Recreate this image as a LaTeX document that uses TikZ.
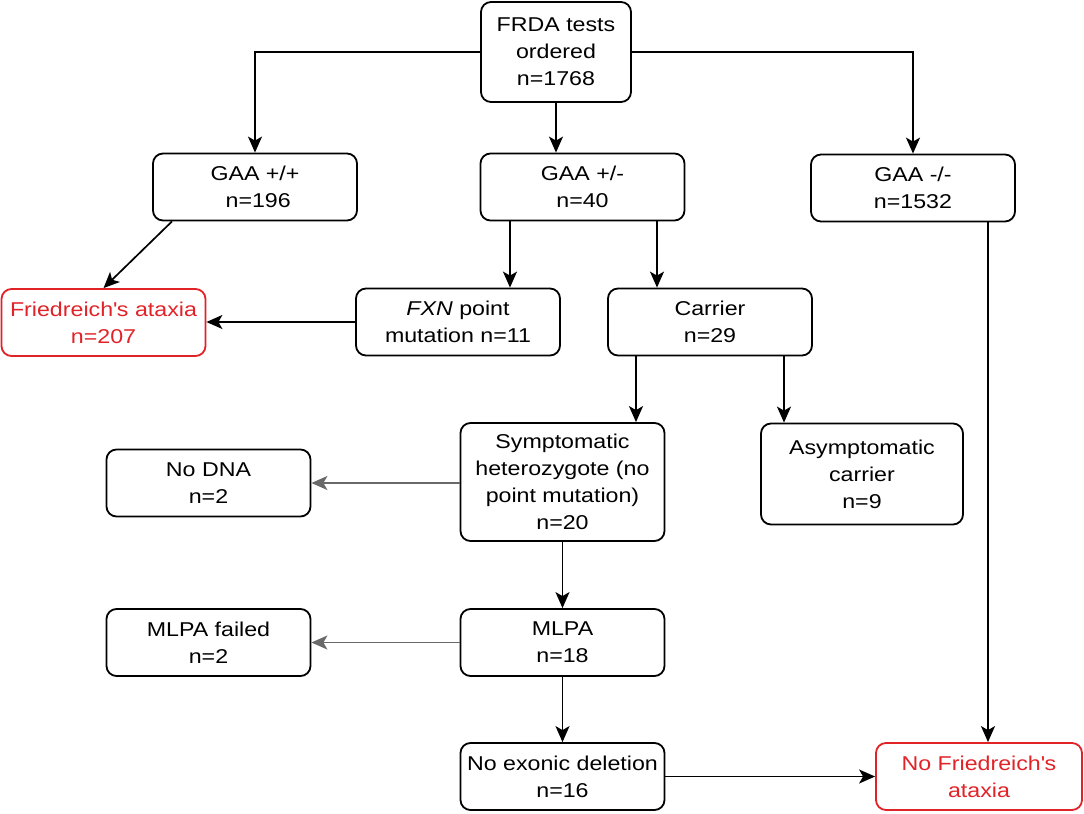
\documentclass[tikz,border=0pt]{standalone}
\usepackage{fontspec}
\setmainfont{Liberation Sans}[FakeStretch=1.16]
\usetikzlibrary{arrows.meta}
\definecolor{ataxiaRed}{RGB}{225,35,40}
\definecolor{arrowGray}{RGB}{105,105,105}
\tikzstyle{flowchart} = [x = 0.5pt, y = -0.5pt]
\tikzstyle{flowBox} = [draw=black, line width=0.9pt, rounded corners=5pt, align=center, minimum width=102pt, minimum height=33.5pt, inner sep=1pt, font=\fontsize{10}{13.5}\selectfont]
\tikzstyle{resultBox} = [flowBox, draw=ataxiaRed, text=ataxiaRed]
\tikzstyle{flowArrow} = [line width=0.85pt, -{Stealth[length=8pt, width=7pt, inset=2pt]}]
\tikzstyle{grayArrow} = [flowArrow, draw=arrowGray]

\begin{document}
\begin{tikzpicture}[flowchart]
        \useasboundingbox (0,0) rectangle (1084,814);
        % top and genotype level
        \node [flowBox, minimum width=75pt, minimum height=50pt] (frda) at (556,52) {FRDA tests\\ordered\\n=1768};
        \node [flowBox] (gaaHom) at (255,187) {GAA +/+\\\ n=196};
        \node [flowBox] (gaaHet) at (582.5,187) {GAA +/-\\n=40};
        \node [flowBox] (gaaNeg) at (913,188) {GAA -/-\\n=1532};
        % second level
        \node [resultBox] (fa) at (103.5,322.5) {Friedreich\textquotesingle s ataxia\\n=207};
        \node [flowBox] (fxn) at (458,322) {\textit{FXN} point\\mutation n=11};
        \node [flowBox] (carrier) at (710,322) {Carrier\\n=29};
        % carriers
        \node [flowBox, minimum height=59pt] (symp) at (562.5,482) {Symptomatic\\heterozygote (no\\point mutation)\\n=20};
        \node [flowBox, minimum width=101pt, minimum height=50.5pt] (asym) at (862,474) {Asymptomatic\\carrier\\n=9};
        \node [flowBox] (noDna) at (208.5,483) {No DNA\\n=2};
        \node [flowBox] (mlpaFail) at (208.5,642.5) {MLPA failed\\n=2};
        \node [flowBox] (mlpa) at (562.5,642.5) {MLPA\\n=18};
        \node [flowBox] (noDel) at (562.5,776.5) {No exonic deletion\\n=16};
        \node [resultBox, minimum width=103pt] (noFa) at (979,776.5) {No Friedreich\textquotesingle s\\ataxia};
        % connectors
        \draw [flowArrow] (frda.west) -| (gaaHom.north);
        \draw [flowArrow] (frda.east) -| (gaaNeg.north);
        \draw [flowArrow] (frda.south) -- (frda.south |- gaaHet.north);
        \draw [flowArrow] ([xshift=-41.5pt]gaaHom.south) -- (fa.north);
        \draw [flowArrow] ([xshift=-36.25pt]gaaHet.south) -- ([xshift=26pt]fxn.north);
        \draw [flowArrow] ([xshift=37.25pt]gaaHet.south) -- ([xshift=-26.5pt]carrier.north);
        \draw [flowArrow] (fxn.west) -- (fa.east |- fxn.west);
        \draw [flowArrow] ([xshift=-37pt]carrier.south) -- ([xshift=36.75pt]symp.north);
        \draw [flowArrow] ([xshift=37pt]carrier.south) -- ([xshift=-39pt]asym.north);
        \draw [grayArrow] (symp.west |- noDna.east) -- (noDna.east);
        \draw [flowArrow] (symp.south) -- (mlpa.north);
        \draw [grayArrow] (mlpa.west) -- (mlpaFail.east);
        \draw [flowArrow] (mlpa.south) -- (noDel.north);
        \draw [flowArrow] ([xshift=37.5pt]gaaNeg.south) -- ([xshift=4.5pt]noFa.north);
        \draw [flowArrow] (noDel.east) -- (noFa.west);
\end{tikzpicture}
\end{document}
